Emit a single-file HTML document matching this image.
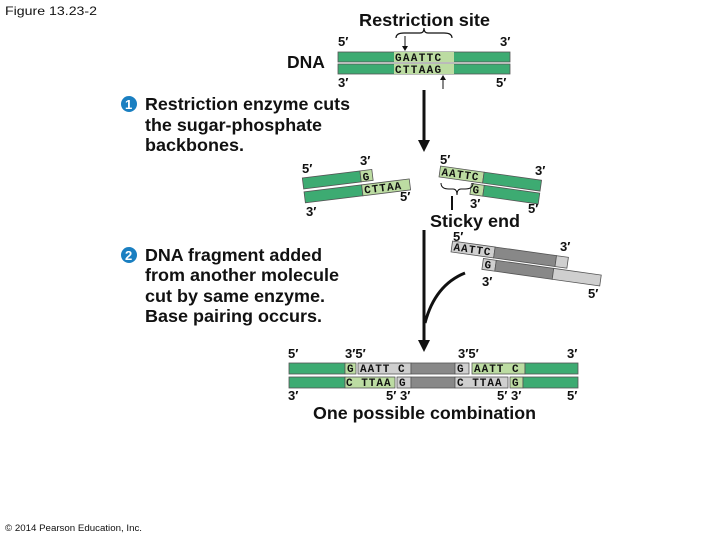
<!DOCTYPE html>
<html><head><style>
body{margin:0;background:#fff;}
svg{display:block;font-family:"Liberation Sans",sans-serif;}
.b{font-weight:bold;font-size:17.5px;fill:#111}
.p{font-weight:bold;font-size:13px;fill:#111}
.s{font-family:"Liberation Mono",monospace;font-size:11px;font-weight:bold;fill:#111}
</style></head><body>
<svg width="720" height="540" viewBox="0 0 720 540">
<text x="5" y="15" font-size="12" fill="#111" textLength="92" lengthAdjust="spacingAndGlyphs">Figure 13.23-2</text>
<text x="5" y="531" font-size="9" fill="#111" textLength="137" lengthAdjust="spacingAndGlyphs">© 2014 Pearson Education, Inc.</text>

<text class="b" x="359" y="26" textLength="131" lengthAdjust="spacingAndGlyphs">Restriction site</text>
<path d="M396,38 q0,-5 8,-5 h16 q4,0 4,-5 q0,5 4,5 h16 q8,0 8,5" fill="none" stroke="#111" stroke-width="1.2"/>
<line x1="405" y1="36" x2="405" y2="49" stroke="#111"/><path d="M402,46 l3,5 l3,-5z" fill="#111"/>
<line x1="443" y1="89" x2="443" y2="78" stroke="#111"/><path d="M440,80 l3,-5 l3,5z" fill="#111"/>
<text class="b" x="287" y="68" font-size="18">DNA</text>
<g stroke="#555" stroke-width="0.8">
<rect x="338" y="52" width="172" height="10" fill="#3dab72"/>
<rect x="338" y="64" width="172" height="10" fill="#3dab72"/>
<rect x="394" y="52" width="60" height="10" fill="#bcdca2" stroke="none"/>
<rect x="394" y="64" width="60" height="10" fill="#bcdca2" stroke="none"/>
</g>
<text class="s" x="395" y="61" letter-spacing="1.3">GAATTC</text>
<text class="s" x="395" y="73" letter-spacing="1.3">CTTAAG</text>
<text class="p" x="338" y="46">5′</text><text class="p" x="500" y="46">3′</text>
<text class="p" x="338" y="87">3′</text><text class="p" x="496" y="87">5′</text>
<line x1="424" y1="90" x2="424" y2="142" stroke="#111" stroke-width="3"/>
<path d="M418,140 l6,12 l6,-12z" fill="#111"/>

<circle cx="129" cy="104" r="8" fill="#1a7fc1"/><text x="125" y="109" font-size="13" font-weight="bold" fill="#fff">1</text>
<text class="b" x="145" y="110" textLength="205" lengthAdjust="spacingAndGlyphs">Restriction enzyme cuts</text>
<text class="b" x="145" y="131" textLength="177" lengthAdjust="spacingAndGlyphs">the sugar-phosphate</text>
<text class="b" x="145" y="151" textLength="99" lengthAdjust="spacingAndGlyphs">backbones.</text>

<g transform="rotate(-7 360 180)" stroke="#555" stroke-width="0.8">
<rect x="303" y="171" width="58" height="11" fill="#3dab72"/>
<rect x="361" y="171" width="12" height="11" fill="#bcdca2"/>
<rect x="303" y="185" width="58" height="11" fill="#3dab72"/>
<rect x="361" y="185" width="48" height="11" fill="#bcdca2"/>
<text class="s" x="363" y="181" stroke="none">G</text>
<text class="s" x="363" y="194" stroke="none" letter-spacing="1">CTTAA</text>
</g>
<text class="p" x="302" y="173">5′</text><text class="p" x="360" y="165">3′</text>
<text class="p" x="400" y="201">5′</text><text class="p" x="306" y="216">3′</text>

<g transform="rotate(8 440 170)" stroke="#555" stroke-width="0.8">
<rect x="440" y="166" width="44" height="11" fill="#bcdca2"/>
<rect x="484" y="166" width="58" height="11" fill="#3dab72"/>
<rect x="473" y="179" width="13" height="11" fill="#bcdca2"/>
<rect x="486" y="179" width="56" height="11" fill="#3dab72"/>
<text class="s" x="442" y="175" stroke="none" letter-spacing="1">AATTC</text>
<text class="s" x="475" y="188" stroke="none">G</text>
</g>
<text class="p" x="440" y="164">5′</text><text class="p" x="535" y="175">3′</text>
<text class="p" x="470" y="208">3′</text><text class="p" x="528" y="213">5′</text>
<path d="M441,183 q0,6 8,6 h4 q4,0 4,6 q0,-6 4,-6 h4 q8,0 8,-6" fill="none" stroke="#111"/>
<line x1="452" y1="196" x2="452" y2="210" stroke="#111" stroke-width="2"/>
<text class="b" x="430" y="227" textLength="90" lengthAdjust="spacingAndGlyphs">Sticky end</text>

<g transform="rotate(8 452 245)" stroke="#555" stroke-width="0.8">
<rect x="452" y="241" width="43" height="11" fill="#cfcfcf"/>
<rect x="495" y="241" width="62" height="11" fill="#888"/>
<rect x="557" y="241" width="12" height="11" fill="#cfcfcf"/>
<rect x="485" y="254" width="13" height="11" fill="#cfcfcf"/>
<rect x="498" y="254" width="58" height="11" fill="#888"/>
<rect x="556" y="254" width="48" height="11" fill="#cfcfcf"/>
<text class="s" x="454" y="250" stroke="none" letter-spacing="1">AATTC</text>
<text class="s" x="487" y="263" stroke="none">G</text>
</g>
<text class="p" x="453" y="241">5′</text><text class="p" x="560" y="251">3′</text>
<text class="p" x="482" y="286">3′</text><text class="p" x="588" y="298">5′</text>

<line x1="424" y1="230" x2="424" y2="340" stroke="#111" stroke-width="3"/>
<path d="M465,273 q-30,12 -40,50" fill="none" stroke="#111" stroke-width="3"/>
<path d="M418,340 l6,12 l6,-12z" fill="#111"/>

<circle cx="129" cy="255" r="8" fill="#1a7fc1"/><text x="125" y="260" font-size="13" font-weight="bold" fill="#fff">2</text>
<text class="b" x="145" y="261" textLength="177" lengthAdjust="spacingAndGlyphs">DNA fragment added</text>
<text class="b" x="145" y="281" textLength="194" lengthAdjust="spacingAndGlyphs">from another molecule</text>
<text class="b" x="145" y="302" textLength="180" lengthAdjust="spacingAndGlyphs">cut by same enzyme.</text>
<text class="b" x="145" y="322" textLength="177" lengthAdjust="spacingAndGlyphs">Base pairing occurs.</text>

<g stroke="#555" stroke-width="0.8">
<rect x="289" y="363" width="56" height="11" fill="#3dab72"/>
<rect x="345" y="363" width="11" height="11" fill="#bcdca2"/>
<rect x="358" y="363" width="53" height="11" fill="#cfcfcf"/>
<rect x="411" y="363" width="44" height="11" fill="#888"/>
<rect x="455" y="363" width="14" height="11" fill="#cfcfcf"/>
<rect x="472" y="363" width="53" height="11" fill="#bcdca2"/>
<rect x="525" y="363" width="53" height="11" fill="#3dab72"/>
<rect x="289" y="377" width="56" height="11" fill="#3dab72"/>
<rect x="345" y="377" width="50" height="11" fill="#bcdca2"/>
<rect x="397" y="377" width="14" height="11" fill="#cfcfcf"/>
<rect x="411" y="377" width="44" height="11" fill="#888"/>
<rect x="455" y="377" width="53" height="11" fill="#cfcfcf"/>
<rect x="510" y="377" width="13" height="11" fill="#bcdca2"/>
<rect x="523" y="377" width="55" height="11" fill="#3dab72"/>
</g>
<text class="s" x="347" y="372">G</text><text class="s" x="360" y="372" letter-spacing="1">AATT C</text>
<text class="s" x="457" y="372">G</text><text class="s" x="474" y="372" letter-spacing="1">AATT C</text>
<text class="s" x="346" y="386" letter-spacing="1">C TTAA</text><text class="s" x="399" y="386">G</text>
<text class="s" x="457" y="386" letter-spacing="1">C TTAA</text><text class="s" x="512" y="386">G</text>
<text class="p" x="288" y="358">5′</text><text class="p" x="345" y="358">3′5′</text><text class="p" x="458" y="358">3′5′</text><text class="p" x="567" y="358">3′</text>
<text class="p" x="288" y="400">3′</text><text class="p" x="386" y="400">5′ 3′</text><text class="p" x="497" y="400">5′ 3′</text><text class="p" x="567" y="400">5′</text>
<text class="b" x="313" y="419" textLength="223" lengthAdjust="spacingAndGlyphs">One possible combination</text>
</svg>
</body></html>
